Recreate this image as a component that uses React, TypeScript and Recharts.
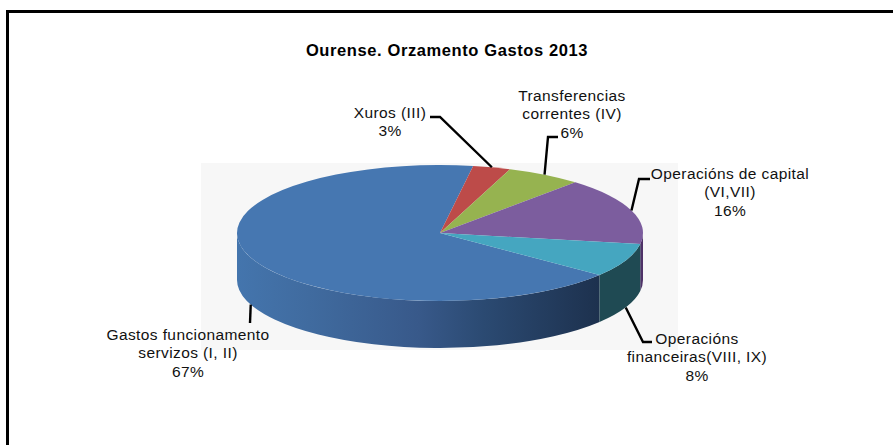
import React from "react";
import { PieChart, Pie, Cell } from "recharts";

const chartTitle = "Ourense. Orzamento Gastos 2013";
const categoryLines: string[][] = [
  ["Gastos funcionamento", "servizos (I, II)"],
  ["Xuros (III)"],
  ["Transferencias", "correntes (IV)"],
  ["Operacións de capital", "(VI,VII)"],
  ["Operacións", "financeiras(VIII, IX)"],
];
const shares = [67, 3, 6, 16, 8];
const topColors = ["#4677b1", "#bd4b49", "#96b350", "#7c5d9e", "#45a6c0"];
const wallColors = ["url(#blueWall)", "#7d3836", "#64783a", "#4f3268", "#1f4a53"];

const W = 893;
const H = 445;
const CX = 440;
const CY = 233;
const RX = 203;
const RY = 68;
const DEPTH = 47;
const SQUASH = RY / RX;
const FONT = "'Liberation Sans', Arial, sans-serif";

// text centre, first baseline, leader elbow and end for each label
const labelLayout = [
  { tx: 188, ty: 340, line: [[250, 323]], onWall: true },
  { tx: 390, ty: 118, line: [[440, 117], [430, 117]], onWall: false },
  { tx: 572, ty: 101, line: [[548, 137], [558, 137]], onWall: false },
  { tx: 730, ty: 179, line: [[639, 179], [650, 179]], onWall: false },
  { tx: 697, ty: 344, line: [[643, 342], [652, 342]], onWall: true },
];

const rad = (d: number) => (d * Math.PI) / 180;
const pt = (cx: number, cy: number, r: number, a: number): [number, number] => [
  cx + r * Math.cos(rad(a)),
  cy - r * SQUASH * Math.sin(rad(a)),
];

function wallPath(cx: number, cy: number, r: number, hi: number, lo: number) {
  const [x1, y1] = pt(cx, cy, r, hi);
  const [x2, y2] = pt(cx, cy, r, lo);
  const ry = r * SQUASH;
  const large = hi - lo > 180 ? 1 : 0;
  return (
    `M${x1},${y1} A${r},${ry} 0 ${large} 1 ${x2},${y2} ` +
    `L${x2},${y2 + DEPTH} A${r},${ry} 0 ${large} 0 ${x1},${y1 + DEPTH} Z`
  );
}

function EllipseSlice(props: any) {
  const { cx, cy, outerRadius: r, startAngle, endAngle, fill, index } = props;
  const hi = Math.max(startAngle, endAngle);
  const lo = Math.min(startAngle, endAngle);
  const ry = r * SQUASH;
  const [x1, y1] = pt(cx, cy, r, hi);
  const [x2, y2] = pt(cx, cy, r, lo);
  const large = hi - lo > 180 ? 1 : 0;
  const walls: string[] = [];
  // the rim shows only on the front half of the ellipse
  for (const [fHi, fLo] of [[0, -180], [-360, -540]]) {
    const a = Math.min(hi, fHi);
    const b = Math.max(lo, fLo);
    if (a > b) walls.push(wallPath(cx, cy, r, a, b));
  }
  return (
    <g>
      {walls.map((d, i) => (
        <path key={i} d={d} fill={wallColors[index]} />
      ))}
      <path
        d={`M${cx},${cy} L${x1},${y1} A${r},${ry} 0 ${large} 1 ${x2},${y2} Z`}
        fill={fill}
      />
    </g>
  );
}

function SliceLabel(props: any) {
  const { cx, cy, outerRadius: r, midAngle, index } = props;
  const layout = labelLayout[index];
  const [sx, sy0] = pt(cx, cy, r, midAngle);
  const sy = sy0 + (layout.onWall ? DEPTH : 0);
  const pts = [[sx, sy], ...layout.line].map((p) => p.join(",")).join(" ");
  const lines = [...categoryLines[index], `${shares[index]}%`];
  return (
    <g>
      <polyline points={pts} fill="none" stroke="#000" strokeWidth={2.4} />
      <text
        x={layout.tx}
        y={layout.ty}
        textAnchor="middle"
        fontFamily={FONT}
        fontSize={15.5}
        letterSpacing={0.4}
        fill="#111"
      >
        {lines.map((l, i) => (
          <tspan key={i} x={layout.tx} y={layout.ty + i * 18.3}>
            {l}
          </tspan>
        ))}
      </text>
    </g>
  );
}

const tableData = shares.map((value, i) => ({ name: categoryLines[i].join(" "), value }));

export default function App() {
  return (
    <div style={{ position: "fixed", left: 0, top: 0, width: W, height: H, background: "#fff", overflow: "hidden" }}>
      <div style={{ position: "absolute", left: 6, top: 10, width: W, height: 3, background: "#000" }} />
      <div style={{ position: "absolute", left: 6, top: 10, width: 3, height: H, background: "#000" }} />
      <div style={{ position: "absolute", left: 201, top: 163, width: 477, height: 187, background: "#f7f7f7" }} />
      <div style={{ position: "absolute", left: 0, top: 0 }}>
        <PieChart width={W} height={H} margin={{ top: 0, right: 0, bottom: 0, left: 0 }}>
          <defs>
            <linearGradient id="blueWall" x1="0" y1="0" x2="1" y2="0">
              <stop offset="0" stopColor="#4475ad" />
              <stop offset="0.2" stopColor="#406b9f" />
              <stop offset="0.5" stopColor="#38598a" />
              <stop offset="0.68" stopColor="#2b4a72" />
              <stop offset="1" stopColor="#1d314e" />
            </linearGradient>
          </defs>
          <text x={447} y={55.5} textAnchor="middle" fontFamily={FONT} fontWeight="bold" fontSize={16.5} letterSpacing={0.6} fill="#000">
            {chartTitle}
          </text>
          <Pie
            data={tableData}
            dataKey="value"
            nameKey="name"
            cx={CX}
            cy={CY}
            innerRadius={0}
            outerRadius={RX}
            startAngle={-38.2}
            endAngle={-398.2}
            paddingAngle={0}
            stroke="none"
            isAnimationActive={false}
            shape={EllipseSlice}
            label={SliceLabel}
            labelLine={false}
          >
            {shares.map((_, i) => (
              <Cell key={i} fill={topColors[i]} />
            ))}
          </Pie>
        </PieChart>
      </div>
    </div>
  );
}
